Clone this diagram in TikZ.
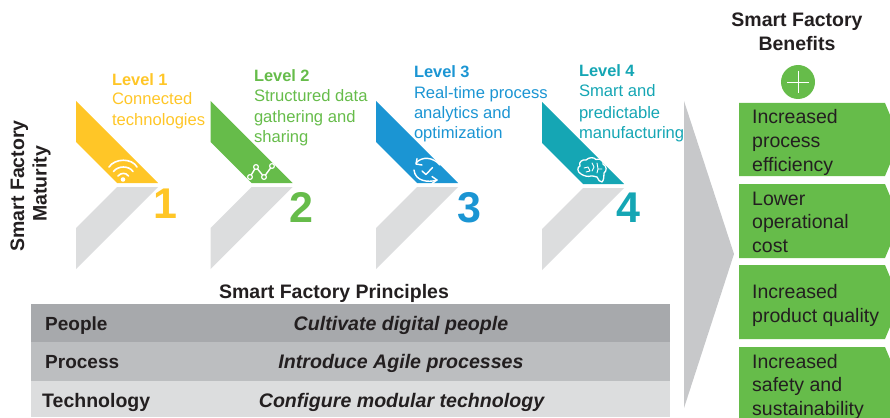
\documentclass[tikz,border=0pt]{standalone}
\usepackage{fontspec}
\setmainfont{Liberation Sans}
\definecolor{cyel}{HTML}{FFC627}
\definecolor{cgrn}{HTML}{66BC4A}
\definecolor{cblu}{HTML}{1B95D3}
\definecolor{ctea}{HTML}{15A6B4}
\definecolor{cgry}{HTML}{DCDDDE}
\definecolor{carr}{HTML}{C7C8CA}
\definecolor{crow}{HTML}{A7A9AC}
\definecolor{crob}{HTML}{BCBEC0}
\definecolor{cink}{HTML}{231F20}
\tikzset{
  txt/.style={anchor=base west,inner sep=0pt,outer sep=0pt,font=\fontsize{16.6}{16.6}\selectfont},
  hd/.style={txt,font=\fontsize{16.4}{16.4}\selectfont\bfseries},
  num/.style={anchor=base,inner sep=0pt,font=\fontsize{43}{43}\selectfont\bfseries},
  ben/.style={anchor=base west,inner sep=0pt,text=cink,font=\fontsize{19.5}{19.5}\selectfont},
  ttl/.style={anchor=base,inner sep=0pt,text=cink,font=\fontsize{19.5}{19.5}\selectfont\bfseries},
  rowh/.style={anchor=base west,inner sep=0pt,text=cink,font=\fontsize{19}{19}\selectfont\bfseries},
  rowt/.style={anchor=base,inner sep=0pt,text=cink,font=\fontsize{19.6}{19.6}\selectfont\bfseries\itshape},
  ico/.style={draw=white,line width=1.4pt,fill=none,line cap=round,line join=round},
}
\newcommand{\chev}[3]{%
  \fill[#2] (#1,#3) -- ++(82,82) -- ++(-41,0) -- ++(-41,-41) -- cycle;
  \fill[cgry] (#1+41,#3+86) -- ++(41,0) -- ++(-82,82) -- ++(0,-41) -- cycle;}
\newcommand{\benbox}[2]{%
  \fill[cgrn] (739,#1) -- (885,#1) -- (895,#1+24) -- (895,#2-24) -- (885,#2) -- (739,#2) -- cycle;}
\begin{document}
\begin{tikzpicture}[x=1pt,y=-1pt]
\useasboundingbox (0,0) rectangle (890,417);
\clip (0,0) rectangle (890,417);
% chevrons
\chev{76}{cyel}{101}
\chev{210.5}{cgrn}{101}
\chev{376}{cblu}{101}
\chev{542}{ctea}{102}
% big arrow
\fill[carr] (684,101) -- (734,254) -- (684,408) -- cycle;
% benefit boxes
\benbox{103}{176}
\benbox{184}{258}
\benbox{265}{339}
\benbox{347}{430}
% table
\fill[crow] (31,304) rectangle (670,342);
\fill[crob] (31,342) rectangle (670,381);
\fill[cgry] (31,381) rectangle (670,417);
% plus
\fill[cgrn] (798,82) circle (17);
\draw[white,line width=0.7pt] (787,82) -- (809,82) (798,71) -- (798,93);
% wifi icon
\draw[ico,line width=1.6pt] (109,167) .. controls (115,158) and (132,158) .. (137,167);
\draw[ico,line width=1.6pt] (113.5,171.5) .. controls (118,165.5) and (129,165.5) .. (133,171.5);
\draw[ico,line width=1.6pt] (118,176) .. controls (121,172.5) and (126,172.5) .. (128.5,176);
\fill[white] (123,179.5) circle (2.3);
% graph icon
\draw[ico] (250,177) -- (256,167) -- (264,177) -- (272,166);
\draw[ico,fill=cgrn,line width=1.2pt] (250,177) circle (2.4) (256,167) circle (2.4) (264,177) circle (2.4) (272,166) circle (2.4);
% sync-check icon
\draw[ico] (416,163) .. controls (422,156) and (433,157) .. (440,165);
\draw[ico] (417,158.5) -- (416,164) -- (422,165);
\draw[ico] (414,170) .. controls (415,181) and (428,183) .. (437,180);
\draw[ico] (432,176.5) -- (437,180) -- (432,183.5);
\draw[ico] (422,171) -- (426,174.5) -- (432.5,167.5);
% brain icon
\draw[ico,line width=1.3pt] (581,174) .. controls (577,172) and (577,167) .. (580,166)
  .. controls (578,162) and (583,159) .. (586,160)
  .. controls (589,157) and (594,157) .. (596,159.5)
  .. controls (600,158) and (604,161) .. (603,164)
  .. controls (607,166) and (607,171) .. (604,173)
  .. controls (604,176) and (604,180) .. (602,182)
  .. controls (600,182) and (598,180) .. (597,177)
  .. controls (594,176) and (592,176) .. (591,176)
  .. controls (588,177) and (584,176) .. (581,174) -- cycle;
\draw[ico,line width=0.9pt] (584,168) -- (588,167) -- (590,171) (586,172) -- (590,171) (592,163) -- (594,167) -- (592,171) (597,163) -- (598,169) -- (602,169) (598,169) -- (597,173);
% level labels
\node[hd,text=cyel] (l1) at (112,85) {Level 1};
\node[txt,text=cyel] (l1a) at (112,104) {Connected};
\node[txt,text=cyel] (l1b) at (112,125) {technologies};
\node[hd,text=cgrn] (l2) at (254,82) {Level 2};
\node[txt,text=cgrn] (l2a) at (254,102) {Structured data};
\node[txt,text=cgrn] (l2b) at (254,122) {gathering and};
\node[txt,text=cgrn] (l2c) at (254,142) {sharing};
\node[hd,text=cblu] (l3) at (414,78) {Level 3};
\node[txt,text=cblu] (l3a) at (414,99) {Real-time process};
\node[txt,text=cblu] (l3b) at (414,118) {analytics and};
\node[txt,text=cblu] (l3c) at (414,138) {optimization};
\node[hd,text=ctea] (l4) at (579,77) {Level 4};
\node[txt,text=ctea] (l4a) at (579,96) {Smart and};
\node[txt,text=ctea] (l4b) at (579,118) {predictable};
\node[txt,text=ctea] (l4c) at (579,138) {manufacturing};
% numbers
\node[num,text=cyel] (n1) at (165,218) {1};
\node[num,text=cgrn] (n2) at (301.5,222) {2};
\node[num,text=cblu] (n3) at (469,222) {3};
\node[num,text=ctea] (n4) at (628,222) {4};
% titles
\node[ttl,rotate=90] (m1) at (24,186) {Smart Factory};
\node[ttl,rotate=90] (m2) at (46.5,184) {Maturity};
\node[ttl] (b1) at (797,27) {Smart Factory};
\node[ttl] (b2) at (797,51) {Benefits};
\node[ttl] (pr) at (334,298) {Smart Factory Principles};
% table text
\node[rowh] (r1) at (45,330) {People};
\node[rowh] (r2) at (45,368) {Process};
\node[rowh,font=\fontsize{19.5}{19.5}\selectfont\bfseries] (r3) at (42,407) {Technology};
\node[rowt] (t1) at (401,330) {Cultivate digital people};
\node[rowt] (t2) at (401,368) {Introduce Agile processes};
\node[rowt] (t3) at (401.5,407) {Configure modular technology};
% benefits
\node[ben] (a1) at (752,123) {Increased};
\node[ben] (a2) at (752,147) {process};
\node[ben] (a3) at (752,171) {efficiency};
\node[ben] (c1) at (752,205) {Lower};
\node[ben] (c2) at (752,228) {operational};
\node[ben] (c3) at (752,252) {cost};
\node[ben] (d1) at (752,298) {Increased};
\node[ben] (d2) at (752,322) {product quality};
\node[ben] (e1) at (752,368) {Increased};
\node[ben] (e2) at (752,391) {safety and};
\node[ben] (e3) at (752,415) {sustainability};
\end{tikzpicture}
\end{document}
